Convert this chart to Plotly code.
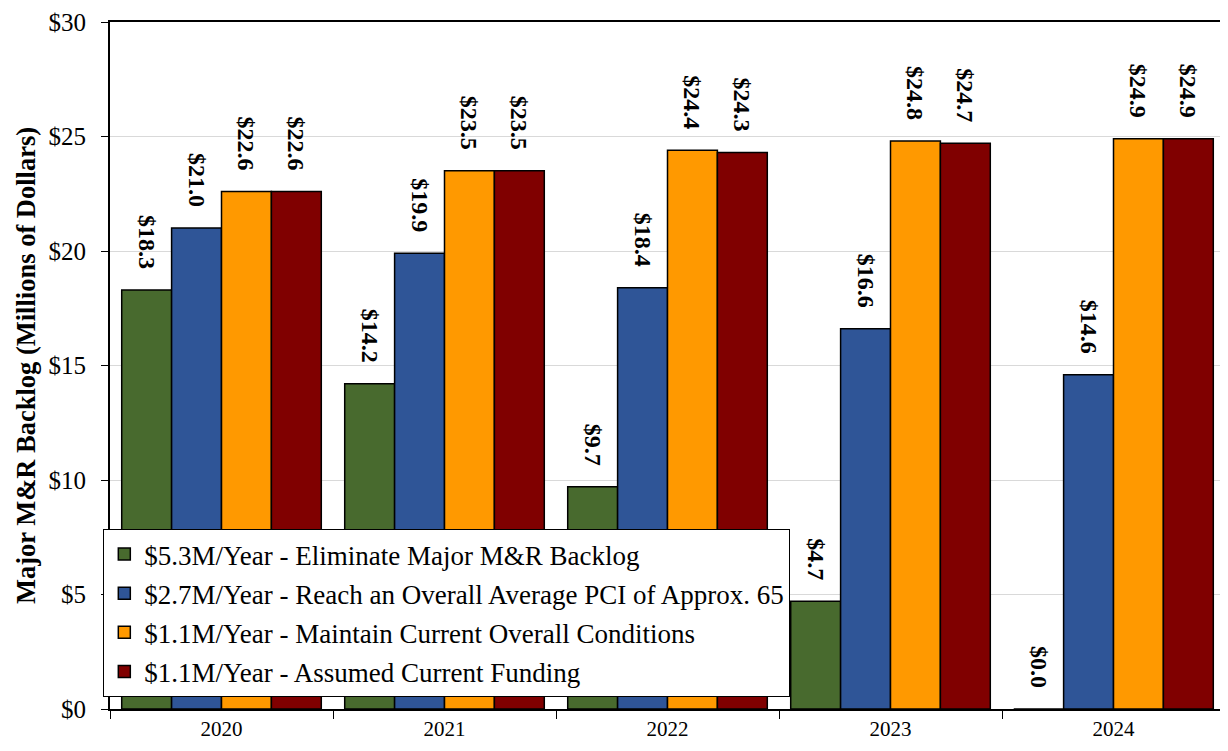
import plotly.graph_objects as go

years = ["2020", "2021", "2022", "2023", "2024"]
series_names = [
    "$5.3M/Year - Eliminate Major M&R Backlog",
    "$2.7M/Year - Reach an Overall Average PCI of Approx. 65",
    "$1.1M/Year - Maintain Current Overall Conditions",
    "$1.1M/Year - Assumed Current Funding",
]
eliminate = [18.3, 14.2, 9.7, 4.7, 0.0]
reach_pci = [21.0, 19.9, 18.4, 16.6, 14.6]
maintain = [22.6, 23.5, 24.4, 24.8, 24.9]
current = [22.6, 23.5, 24.3, 24.7, 24.9]
colors = ["#486A2E", "#2F5597", "#FF9900", "#800000"]

FONT = "Liberation Serif"
fig = go.Figure()
for i, (name, vals, col) in enumerate(zip(series_names, [eliminate, reach_pci, maintain, current], colors)):
    fig.add_trace(go.Bar(
        name=name, x=years, y=vals, legendgroup=f"g{i}",
        marker=dict(color=col, line=dict(color="black", width=1.5)),
        texttemplate="$%{y:.1f}\u00a0\u00a0\u00a0",
        textposition="outside", textangle=90,
        textfont=dict(family=FONT, size=24, color="black", weight="bold"),
        cliponaxis=False,
    ))

# page body has an 8px default margin, so the figure is sized to fit the window
fig.update_layout(
    width=1220, height=735,
    margin=dict(l=102, r=1, t=12, b=34),
    paper_bgcolor="white", plot_bgcolor="white",
    barmode="group", bargap=0.105, bargroupgap=0,
    font=dict(family=FONT, color="black"),
    legend=dict(
        x=-0.006, y=0.0174, xanchor="left", yanchor="bottom",
        bgcolor="white", bordercolor="black", borderwidth=1,
        font=dict(family=FONT, size=27, color="black"),
        traceorder="grouped", tracegroupgap=1,
    ),
    uniformtext=dict(mode="show", minsize=24),
)
fig.update_yaxes(
    range=[0, 30], dtick=5, tickprefix="$",
    showgrid=True, gridcolor="#D9D9D9", gridwidth=1,
    showline=True, linecolor="black", linewidth=2, mirror=True,
    ticks="outside", ticklen=7, tickcolor="black", ticklabelstandoff=10,
    ticklabeloverflow="allow",
    tickfont=dict(family=FONT, size=25),
    title=dict(text="Major M&R Backlog (Millions of Dollars)",
               font=dict(family=FONT, size=26.5, weight="bold"), standoff=5),
    zeroline=False,
)
fig.update_xaxes(
    showline=True, linecolor="black", linewidth=2, mirror=True,
    ticks="outside", tickson="boundaries", ticklen=8, tickcolor="black",
    tickfont=dict(family=FONT, size=21),
)
fig.write_html("out.html")
